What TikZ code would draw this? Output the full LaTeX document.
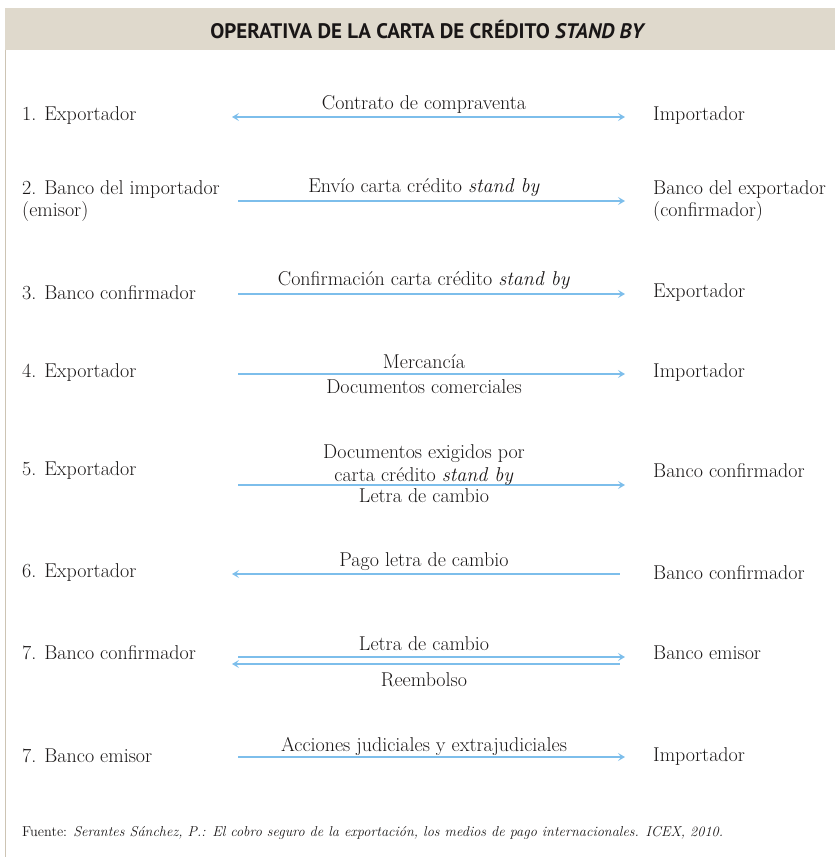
\documentclass[tikz,border=0pt]{standalone}
\usepackage{fontspec}
\setsansfont{PT Sans}
\usepackage{tikz}
\usetikzlibrary{positioning,calc,arrows.meta}
\usepackage{xcolor}

\definecolor{bandgray}{RGB}{223,217,204}
\definecolor{rulegray}{RGB}{205,196,180}
\definecolor{flowblue}{RGB}{125,190,235}
\definecolor{inkdark}{RGB}{25,22,22}

\tikzset{
    ent/.style={anchor=west,inner sep=0pt,align=left,text=inkdark,font=\fontsize{20}{22}\selectfont},
    lab/.style={inner sep=0pt,align=center,text=inkdark,font=\fontsize{20}{23}\selectfont},
    flow/.style={draw=flowblue,line width=1.2pt,
        arrows={-Stealth[length=7pt,width=8pt,inset=3pt]}},
    flowboth/.style={flow,arrows={Stealth[length=7pt,width=8pt,inset=3pt]-Stealth[length=7pt,width=8pt,inset=3pt]}},
    flowback/.style={flow,arrows={Stealth[length=7pt,width=8pt,inset=3pt]-}}
}

\begin{document}
\begin{tikzpicture}[x=1pt,y=-1pt]
\useasboundingbox (0,0) rectangle (835,857);
% header band and left rule
\fill[bandgray] (5,8) rectangle (835,50);
\draw[rulegray,line width=1pt] (5,50) -- (5,857);
\node[font=\sffamily\bfseries\fontsize{21}{24}\selectfont,text=inkdark] (title) at (428,30)
    {OPERATIVA DE LA CARTA DE CRÉDITO \textit{STAND BY}};

% 1
\node[ent] (l1) at (22,116) {1. Exportador};
\node[ent] (r1) at (653,116) {Importador};
\coordinate (a1) at (232,117);
\coordinate (b1) at (625,117);
\draw[flowboth] (a1) -- (b1);
\node[lab] (t1) at (424,104) {Contrato de compraventa};

% 2
\node[ent] (l2) at (22,201) {2. Banco del importador\\(emisor)};
\node[ent] (r2) at (653,201) {Banco del exportador\\(confirmador)};
\coordinate (a2) at (238,201);
\coordinate (b2) at (625,201);
\draw[flow] (a2) -- (b2);
\node[lab] (t2) at (424,188) {Envío carta crédito \textit{stand by}};

% 3
\node[ent] (l3) at (22,293) {3. Banco confirmador};
\node[ent] (r3) at (653,293) {Exportador};
\coordinate (a3) at (238,294);
\coordinate (b3) at (625,294);
\draw[flow] (a3) -- (b3);
\node[lab] (t3) at (424,281) {Confirmación carta crédito \textit{stand by}};

% 4
\node[ent] (l4) at (22,373) {4. Exportador};
\node[ent] (r4) at (653,373) {Importador};
\coordinate (a4) at (238,374);
\coordinate (b4) at (625,374);
\draw[flow] (a4) -- (b4);
\node[lab] (t4) at (424,362) {Mercancía};
\node[lab] (u4) at (424,387) {Documentos comerciales};

% 5
\node[ent] (l5) at (22,471) {5. Exportador};
\node[ent] (r5) at (653,471) {Banco confirmador};
\coordinate (a5) at (238,485);
\coordinate (b5) at (625,485);
\draw[flow] (a5) -- (b5);
\node[lab] (t5) at (424,465) {Documentos exigidos por\\carta crédito \textit{stand by}};
\node[lab] (u5) at (424,496) {Letra de cambio};

% 6
\node[ent] (l6) at (22,573) {6. Exportador};
\node[ent] (r6) at (653,573) {Banco confirmador};
\coordinate (a6) at (232,574);
\coordinate (b6) at (620,574);
\draw[flowback] (a6) -- (b6);
\node[lab] (t6) at (424,562) {Pago letra de cambio};

% 7
\node[ent] (l7) at (22,653) {7. Banco confirmador};
\node[ent] (r7) at (653,653) {Banco emisor};
\coordinate (a7) at (238,657);
\coordinate (b7) at (625,657);
\coordinate (c7) at (232,664);
\coordinate (d7) at (620,664);
\draw[flow] (a7) -- (b7);
\draw[flowback] (c7) -- (d7);
\node[lab] (t7) at (424,644) {Letra de cambio};
\node[lab] (u7) at (424,680) {Reembolso};

% 8
\node[ent] (l8) at (22,756) {7. Banco emisor};
\node[ent] (r8) at (653,756) {Importador};
\coordinate (a8) at (238,757);
\coordinate (b8) at (625,757);
\draw[flow] (a8) -- (b8);
\node[lab] (t8) at (424,746) {Acciones judiciales y extrajudiciales};

% source
\node[ent,font=\fontsize{14.3}{16}\selectfont] (src) at (22,833)
    {Fuente: \textit{Serantes Sánchez, P.: El cobro seguro de la exportación, los medios de pago internacionales. ICEX, 2010.}};
\end{tikzpicture}
\end{document}
